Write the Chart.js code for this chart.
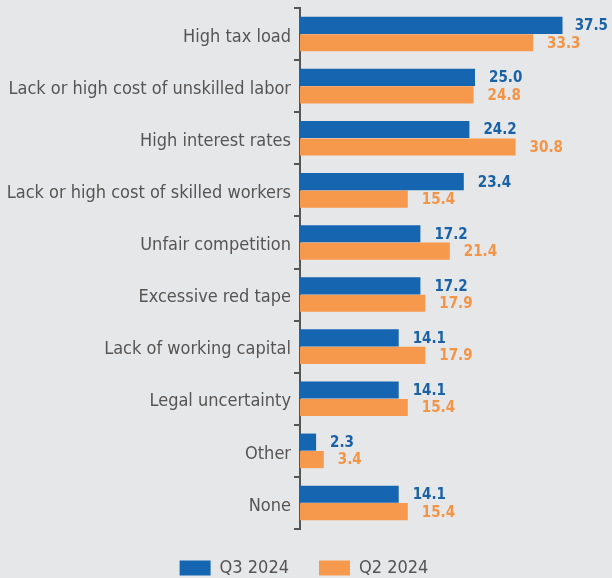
<!DOCTYPE html>
<html>
<head>
<meta charset="utf-8">
<script src="https://cdn.jsdelivr.net/npm/chart.js@4"></script>
<style>
  html, body { margin: 0; padding: 0; background: #e6e7e9; }
  #wrap { width: 612px; height: 578px; position: relative; }
</style>
</head>
<body>
<div id="wrap"><canvas id="chart"></canvas></div>
<script>
const categories = [
  'High tax load',
  'Lack or high cost of unskilled labor',
  'High interest rates',
  'Lack or high cost of skilled workers',
  'Unfair competition',
  'Excessive red tape',
  'Lack of working capital',
  'Legal uncertainty',
  'Other',
  'None'
];
const q3Values = [37.5, 25.0, 24.2, 23.4, 17.2, 17.2, 14.1, 14.1, 2.3, 14.1];
const q2Values = [33.3, 24.8, 30.8, 15.4, 21.4, 17.9, 17.9, 15.4, 3.4, 15.4];
const seriesNames = ['Q3 2024', 'Q2 2024'];

const FONT = '"Liberation Sans Narrow", "DejaVu Sans Condensed", "Roboto", sans-serif';
const BLUE = '#1565b0';
const ORANGE = '#f7994c';

// draws the numbers next to the bars
const valueLabels = {
  id: 'valueLabels',
  afterDatasetsDraw(chart) {
    const ctx = chart.ctx;
    const right = chart.chartArea.right;
    ctx.save();
    ctx.font = 'bold 15px ' + FONT;
    ctx.textBaseline = 'middle';
    ctx.textAlign = 'left';
    chart.data.datasets.forEach((ds, i) => {
      const meta = chart.getDatasetMeta(i);
      ctx.fillStyle = ds.labelColor;
      meta.data.forEach((bar, j) => {
        const txt = ds.data[j].toFixed(1);
        const w = ctx.measureText(txt).width;
        // keep the label inside the canvas
        const x = Math.min(bar.x + 14, right - w);
        ctx.fillText(txt, x, bar.y + 1);
      });
    });
    ctx.restore();
  }
};

new Chart(document.getElementById('chart'), {
  type: 'bar',
  data: {
    labels: categories,
    datasets: [
      {
        label: seriesNames[0],
        data: q3Values,
        backgroundColor: BLUE,
        labelColor: '#1a62a8',
        barPercentage: 0.98,
        categoryPercentage: 0.67
      },
      {
        label: seriesNames[1],
        data: q2Values,
        backgroundColor: ORANGE,
        labelColor: '#f39446',
        barPercentage: 0.98,
        categoryPercentage: 0.67
      }
    ]
  },
  options: {
    indexAxis: 'y',
    responsive: true,
    maintainAspectRatio: false,
    animation: false,
    layout: { padding: { top: 8, left: 0, right: 4, bottom: -9 } },
    scales: {
      x: {
        display: false,
        min: 0,
        max: 44
      },
      y: {
        afterFit(scale) {
          scale.width = 300;
          scale.paddingTop = 0;
        },
        grid: {
          display: true,
          drawOnChartArea: false,
          drawTicks: true,
          tickLength: 6,
          color: '#555',
          lineWidth: 2,
          offset: true
        },
        border: { display: true, color: '#555', width: 2 },
        ticks: {
          color: '#555',
          padding: 3,
          labelOffset: 3,
          font: { family: FONT, size: 18 }
        }
      }
    },
    plugins: {
      legend: {
        position: 'bottom',
        labels: {
          boxWidth: 31,
          boxHeight: 15,
          padding: 30,
          color: '#555',
          font: { family: FONT, size: 18 }
        }
      },
      tooltip: { enabled: false }
    }
  },
  plugins: [valueLabels]
});
</script>
</body>
</html>
